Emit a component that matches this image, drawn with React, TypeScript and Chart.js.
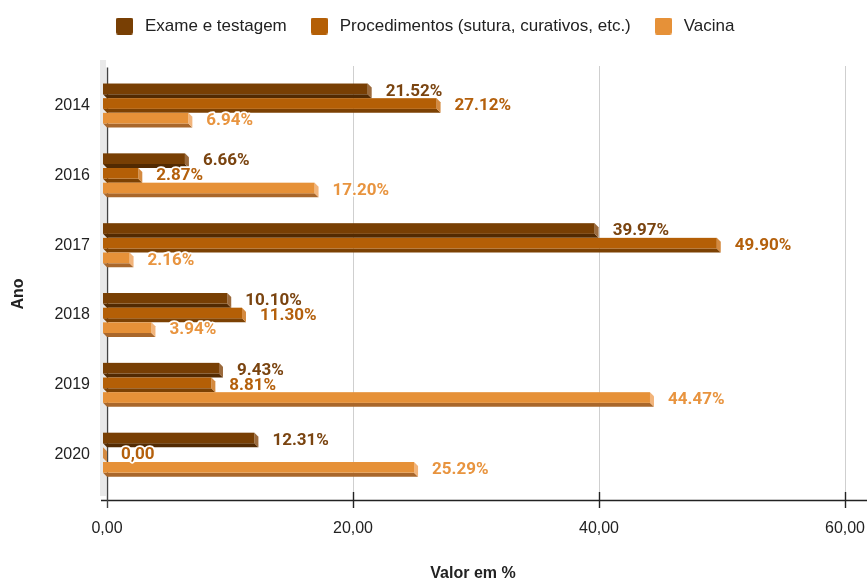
import React, { useEffect, useRef } from "react";
import { Chart, registerables } from "chart.js";

Chart.register(...registerables);

// ---- data ----
const years = ["2014", "2016", "2017", "2018", "2019", "2020"];
const exame = [21.52, 6.66, 39.97, 10.1, 9.43, 12.31];
const procedimentos = [27.12, 2.87, 49.9, 11.3, 8.81, 0];
const vacina = [6.94, 17.2, 2.16, 3.94, 44.47, 25.29];
const seriesNames = ["Exame e testagem", "Procedimentos (sutura, curativos, etc.)", "Vacina"];
const xTickValues = [0, 20, 40, 60];
const xTitle = "Valor em %";
const yTitle = "Ano";

// ---- styles ----
const faceColors = ["#783f04", "#b45f06", "#e69138"];
const bottomColors = ["#522a02", "#7c4103", "#a9672b"];
const sideColors = ["#9b6a3c", "#d48a40", "#f2b47a"];
const labelColors = ["#7a4410", "#b4600c", "#e8943f"];
const DEPTH = 4;
const FONT = "'Liberation Sans', Arial, sans-serif";

function fmtLabel(v: number) {
  return v === 0 ? "0,00" : v.toFixed(2) + "%";
}

function legendSwatch(color: string) {
  const c = document.createElement("canvas");
  c.width = 17;
  c.height = 17;
  const g = c.getContext("2d")!;
  g.fillStyle = color;
  g.beginPath();
  (g as any).roundRect ? (g as any).roundRect(0, 0, 17, 17, 2) : g.rect(0, 0, 17, 17);
  g.fill();
  return c;
}

const bars3d = {
  id: "bars3d",
  beforeInit(chart: any) {
    const legend = chart.legend;
    if (legend) {
      const orig = legend.fit;
      legend.fit = function () {
        orig.call(this);
        this.height = 73.6;
      };
    }
  },
  beforeDatasetsDraw(chart: any) {
    const { ctx, chartArea } = chart;
    const xs = chart.scales.x;
    const base = xs.getPixelForValue(0);
    const gridTop = chartArea.top - 4.6;
    const axisY = Math.round(chartArea.bottom + 10.4);
    const line = (x1: number, y1: number, x2: number, y2: number) => {
      ctx.beginPath();
      ctx.moveTo(x1, y1);
      ctx.lineTo(x2, y2);
      ctx.stroke();
    };
    ctx.save();
    // back-left wall
    ctx.fillStyle = "#e9e9e9";
    ctx.fillRect(base - 7, gridTop - 6, 6, axisY - 4 - (gridTop - 6));
    // grid lines
    ctx.lineWidth = 1;
    ctx.strokeStyle = "#cfcfcf";
    xTickValues.forEach((v) => {
      if (v === 0) return;
      const px = Math.round(xs.getPixelForValue(v)) + 0.5;
      line(px, gridTop, px, axisY - 8);
    });
    // horizontal axis
    ctx.strokeStyle = "#222";
    ctx.lineWidth = 1.4;
    line(base - 6, axisY + 0.5, chart.width, axisY + 0.5);
    // tick marks
    xTickValues.forEach((v) => {
      if (v === 0) return;
      const px = Math.round(xs.getPixelForValue(v)) + 0.5;
      line(px, axisY - 8, px, axisY + 8);
    });
    // vertical axis
    ctx.strokeStyle = "#444";
    ctx.lineWidth = 1.4;
    line(base + 0.5, gridTop + 1.5, base + 0.5, axisY + 8);

    // bars
    chart.data.datasets.forEach((ds: any, di: number) => {
      const meta = chart.getDatasetMeta(di);
      meta.data.forEach((el: any) => {
        const { x, y, base: b, height } = el;
        const top = y - height / 2;
        const bot = y + height / 2;
        const faceBot = bot - DEPTH;
        const fx0 = b - DEPTH;
        const fx1 = x - DEPTH;
        // bottom face
        ctx.fillStyle = bottomColors[di];
        ctx.beginPath();
        ctx.moveTo(fx0, faceBot);
        ctx.lineTo(fx1, faceBot);
        ctx.lineTo(x, bot);
        ctx.lineTo(b, bot);
        ctx.closePath();
        ctx.fill();
        // right face
        ctx.fillStyle = sideColors[di];
        ctx.beginPath();
        ctx.moveTo(fx1, top);
        ctx.lineTo(x, top + DEPTH);
        ctx.lineTo(x, bot);
        ctx.lineTo(fx1, faceBot);
        ctx.closePath();
        ctx.fill();
        // front face
        ctx.fillStyle = faceColors[di];
        ctx.fillRect(fx0, top, fx1 - fx0, faceBot - top);
      });
    });

    // value labels
    ctx.font = "bold 17px Roboto, " + FONT;
    ctx.textAlign = "left";
    ctx.textBaseline = "middle";
    ctx.lineJoin = "round";
    chart.data.datasets.forEach((ds: any, di: number) => {
      const meta = chart.getDatasetMeta(di);
      meta.data.forEach((el: any, i: number) => {
        const txt = fmtLabel(ds.data[i]);
        const lx = el.x + 14;
        const ly = el.y + 0.5;
        ctx.strokeStyle = "#ffffff";
        ctx.lineWidth = 3.5;
        ctx.strokeText(txt, lx, ly);
        ctx.fillStyle = labelColors[di];
        ctx.fillText(txt, lx, ly);
      });
    });
    ctx.restore();
    return false;
  },
  afterDraw(chart: any) {
    const { ctx } = chart;
    ctx.save();
    ctx.fillStyle = "#222";
    ctx.font = "bold 16px " + FONT;
    ctx.textAlign = "center";
    ctx.textBaseline = "middle";
    ctx.fillText(xTitle, 473, 574);
    ctx.translate(18.5, 294);
    ctx.rotate(-Math.PI / 2);
    ctx.fillText(yTitle, 0, 0);
    ctx.restore();
  },
};

export default function App() {
  const ref = useRef<HTMLCanvasElement | null>(null);
  useEffect(() => {
    if (!ref.current) return;
    Chart.defaults.font.family = FONT;
    Chart.defaults.color = "#222";
    const swatches = faceColors.map(legendSwatch);
    const chart = new Chart(ref.current, {
      type: "bar",
      data: {
        labels: years,
        datasets: [
          { label: seriesNames[0], data: exame, backgroundColor: faceColors[0], borderWidth: 0 },
          { label: seriesNames[1], data: procedimentos, backgroundColor: faceColors[1], borderWidth: 0 },
          { label: seriesNames[2], data: vacina, backgroundColor: faceColors[2], borderWidth: 0 },
        ],
      },
      options: {
        indexAxis: "y",
        responsive: false,
        animation: false,
        events: [],
        categoryPercentage: 0.63,
        barPercentage: 1,
        layout: { padding: { top: -3, left: -4, right: 16, bottom: 0 } },
        plugins: {
          tooltip: { enabled: false },
          legend: {
            position: "top",
            labels: {
              usePointStyle: true,
              pointStyleWidth: 24,
              padding: 20.5,
              color: "#222",
              font: { size: 17, family: FONT },
              generateLabels: (chart: any) =>
                chart.data.datasets.map((ds: any, i: number) => ({
                  text: ds.label,
                  fillStyle: faceColors[i],
                  strokeStyle: faceColors[i],
                  lineWidth: 0,
                  pointStyle: swatches[i],
                  fontColor: "#222",
                  hidden: false,
                  datasetIndex: i,
                })),
            },
          },
        },
        scales: {
          x: {
            type: "linear",
            min: 0,
            max: 60,
            afterBuildTicks: (s: any) => {
              s.ticks = xTickValues.map((v) => ({ value: v }));
            },
            ticks: {
              callback: (v: any) => Number(v).toFixed(2).replace(".", ","),
              padding: 29,
              color: "#222",
              font: { size: 16, family: FONT },
              maxRotation: 0,
              autoSkip: false,
            },
            grid: { display: false, drawTicks: false },
            border: { display: false },
            afterFit: (s: any) => {
              s.height = 91.4;
              s.paddingLeft = 0;
              s.paddingRight = 22;
              s.paddingTop = 0;
              s.paddingBottom = 0;
            },
          },
          y: {
            type: "category",
            ticks: { padding: 17, color: "#222", font: { size: 16, family: FONT } },
            grid: { display: false, drawTicks: false },
            border: { display: false },
            afterFit: (s: any) => {
              s.width = 111;
              s.paddingTop = 0;
              s.paddingBottom = 0;
              s.paddingLeft = 0;
              s.paddingRight = 0;
            },
          },
        },
      } as any,
      plugins: [bars3d as any],
    });
    return () => chart.destroy();
  }, []);
  return (
    <div style={{ position: "absolute", left: 0, top: 0, width: 867, height: 581, background: "#fff" }}>
      <canvas ref={ref} width={867} height={581} style={{ display: "block" }} />
    </div>
  );
}
